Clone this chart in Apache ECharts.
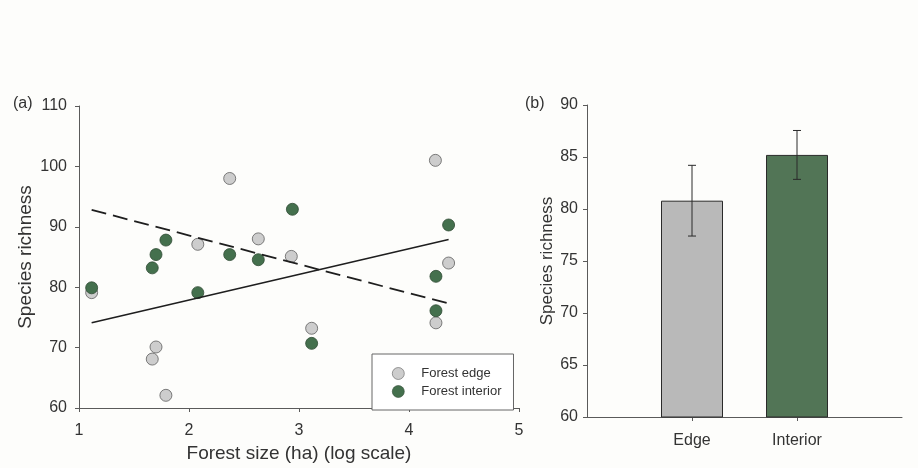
<!DOCTYPE html>
<html>
<head>
<meta charset="utf-8">
<title>Species richness by forest size and habitat</title>
<script src="https://cdn.jsdelivr.net/npm/echarts@6/dist/echarts.min.js"></script>
<style>
  html, body { margin: 0; padding: 0; background: #fdfdfb; }
  #chart { width: 918px; height: 468px; }
</style>
</head>
<body>
<div id="chart"></div>
<script>
// Panel (a): species richness per forest, plotted against log forest size
const edgeSize      = [1.115, 1.666, 1.70, 1.79, 2.08, 2.37, 2.63, 2.93, 3.115, 4.24, 4.245, 4.36];
const edgeRichness  = [79.1, 68.1, 70.1, 62.1, 87.1, 98.0, 88.0, 85.1, 73.2, 101.0, 74.1, 84.0];
const interiorSize     = [1.115, 1.666, 1.70, 1.79, 2.08, 2.37, 2.63, 2.94, 3.115, 4.245, 4.245, 4.36];
const interiorRichness = [79.9, 83.2, 85.4, 87.8, 79.1, 85.4, 84.55, 92.9, 70.7, 81.8, 76.1, 90.3];

// Fitted trend lines (end points in size, richness)
const trendSolidX = [1.115, 4.36];
const trendSolidY = [74.1, 87.9];
const trendDashedX = [1.115, 4.36];
const trendDashedY = [92.8, 77.3];

// Panel (b): mean richness with error bars
const habitats = ['Edge', 'Interior'];
const meanRichness = [80.8, 85.2];
const errRichness = [3.4, 2.35];

const pointsA = (xs, ys) => xs.map((x, i) => [x, ys[i]]);

const FONT = 'Liberation Sans, Arial, sans-serif';
const AXIS_COLOR = '#5a5a5a';
const TEXT_COLOR = '#333333';
const EDGE_GREY = '#cdcdcd';
const INTERIOR_GREEN = '#44704d';
const BAR_GREY = '#b9b9b9';
const BAR_GREEN = '#527556';

const tick = { show: true, length: 4, lineStyle: { color: AXIS_COLOR } };
const axisCommon = {
  axisLine: { show: true, lineStyle: { color: AXIS_COLOR, width: 1 } },
  axisTick: tick,
  splitLine: { show: false }
};
const labelStyle = (size, margin) => ({ color: TEXT_COLOR, fontFamily: FONT, fontSize: size, margin: margin });
const nameStyle = size => ({ color: TEXT_COLOR, fontFamily: FONT, fontSize: size });

const chart = echarts.init(document.getElementById('chart'), null, { renderer: 'canvas' });

const option = {
  backgroundColor: '#fdfdfb',
  animation: false,
  textStyle: { fontFamily: FONT },
  grid: [
    { left: 79, right: 399, top: 106, bottom: 55 },
    { left: 587, right: 16, top: 105, bottom: 51 }
  ],
  graphic: [
    { type: 'text', left: 13, top: 96, style: { text: '(a)', font: '16px ' + FONT, fill: TEXT_COLOR } },
    { type: 'text', left: 525, top: 96, style: { text: '(b)', font: '16px ' + FONT, fill: TEXT_COLOR } }
  ],
  legend: {
    data: ['Forest edge', 'Forest interior'],
    orient: 'vertical',
    left: 372,
    top: 354,
    padding: [13, 12, 12, 20],
    itemWidth: 12,
    itemHeight: 12,
    itemGap: 5,
    icon: 'circle',
    borderColor: '#666',
    borderWidth: 1,
    backgroundColor: '#ffffff',
    itemStyle: { borderWidth: 0.6 },
    textStyle: { color: TEXT_COLOR, fontFamily: FONT, fontSize: 13, padding: [0, 0, 0, 12] }
  },
  xAxis: [
    Object.assign({}, axisCommon, {
      gridIndex: 0, type: 'value', min: 1, max: 5, interval: 1,
      name: 'Forest size (ha) (log scale)', nameLocation: 'middle', nameGap: 36,
      nameTextStyle: nameStyle(19),
      axisLabel: labelStyle(16, 15)
    }),
    Object.assign({}, axisCommon, {
      gridIndex: 1, type: 'value', min: 0, max: 3, interval: 1,
      axisTick: Object.assign({}, tick, { customValues: [1, 2] }),
      axisLabel: Object.assign(labelStyle(16, 16), {
        customValues: [1, 2],
        formatter: v => habitats[Math.round(v) - 1] || ''
      })
    })
  ],
  yAxis: [
    Object.assign({}, axisCommon, {
      gridIndex: 0, type: 'value', min: 60, max: 110, interval: 10,
      name: 'Species richness', nameLocation: 'middle', nameGap: 44,
      nameTextStyle: nameStyle(19),
      axisLabel: labelStyle(16, 12)
    }),
    Object.assign({}, axisCommon, {
      gridIndex: 1, type: 'value', min: 60, max: 90, interval: 5,
      name: 'Species richness', nameLocation: 'middle', nameGap: 31,
      nameTextStyle: nameStyle(17),
      axisLabel: labelStyle(16, 9)
    })
  ],
  series: [
    {
      name: 'trend solid', type: 'line', xAxisIndex: 0, yAxisIndex: 0,
      data: pointsA(trendSolidX, trendSolidY), symbol: 'none', silent: true,
      lineStyle: { color: '#1e1e1e', width: 1.6 }
    },
    {
      name: 'trend dashed', type: 'line', xAxisIndex: 0, yAxisIndex: 0,
      data: pointsA(trendDashedX, trendDashedY), symbol: 'none', silent: true,
      lineStyle: { color: '#1e1e1e', width: 1.8, type: [15, 7] }
    },
    {
      name: 'Forest edge', type: 'scatter', xAxisIndex: 0, yAxisIndex: 0,
      data: pointsA(edgeSize, edgeRichness), symbolSize: 12,
      itemStyle: { color: EDGE_GREY, borderColor: '#5e5e5e', borderWidth: 0.8, opacity: 1 }
    },
    {
      name: 'Forest interior', type: 'scatter', xAxisIndex: 0, yAxisIndex: 0,
      data: pointsA(interiorSize, interiorRichness), symbolSize: 12,
      itemStyle: { color: INTERIOR_GREEN, borderColor: '#2f4a34', borderWidth: 0.8, opacity: 1 }
    },
    {
      name: 'mean', type: 'bar', xAxisIndex: 1, yAxisIndex: 1,
      barWidth: 62,
      data: meanRichness.map((m, i) => ({
        value: [i + 1, m],
        itemStyle: { color: i === 0 ? BAR_GREY : BAR_GREEN, borderColor: '#2a2a2a', borderWidth: 1 }
      }))
    },
    {
      name: 'error', type: 'custom', xAxisIndex: 1, yAxisIndex: 1, silent: true,
      data: meanRichness.map((m, i) => [i + 1, m - errRichness[i], m + errRichness[i]]),
      renderItem: function (params, api) {
        const x = api.value(0);
        const lo = api.coord([x, api.value(1)]);
        const hi = api.coord([x, api.value(2)]);
        const cap = 4;
        const style = { stroke: '#2a2a2a', lineWidth: 1 };
        return {
          type: 'group',
          children: [
            { type: 'line', shape: { x1: lo[0], y1: lo[1], x2: hi[0], y2: hi[1] }, style: style },
            { type: 'line', shape: { x1: lo[0] - cap, y1: lo[1], x2: lo[0] + cap, y2: lo[1] }, style: style },
            { type: 'line', shape: { x1: hi[0] - cap, y1: hi[1], x2: hi[0] + cap, y2: hi[1] }, style: style }
          ]
        };
      },
      z: 5
    }
  ]
};

chart.setOption(option);
</script>
</body>
</html>
